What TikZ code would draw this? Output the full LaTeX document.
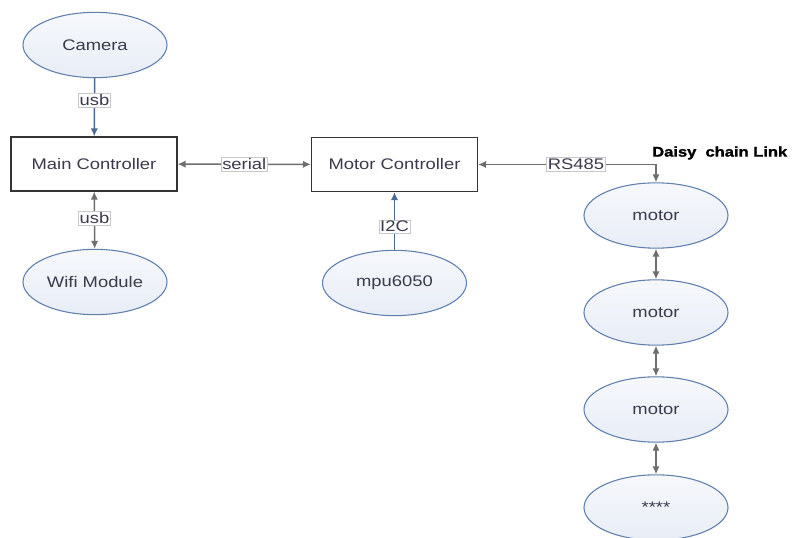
\documentclass[tikz,border=0pt]{standalone}
\usepackage{fontspec}
\setmainfont[FakeStretch=1.2]{Liberation Sans}
\newfontfamily\heavyfont[FakeStretch=1.18,FakeBold=1.6]{Liberation Sans Bold}
\usetikzlibrary{arrows.meta,shapes.geometric}
\definecolor{txtc}{HTML}{3A3A4C}
\definecolor{elb}{HTML}{5F7FAD}
\definecolor{elf}{HTML}{E8EDF6}
\definecolor{arrg}{HTML}{6E6E6E}
\definecolor{arrb}{HTML}{4A6A94}
\definecolor{lblb}{HTML}{C8C8C8}
\tikzset{
  ell/.style={ellipse,draw=elb,line width=0.8pt,top color=white!60!elf,bottom color=elf,
    minimum width=108pt,minimum height=49pt,inner sep=0pt,text=txtc,font=\fontsize{11.5}{13}\selectfont},
  box/.style={rectangle,draw=black!80,line width=0.9pt,fill=white,minimum width=124.5pt,minimum height=40.5pt,
    inner sep=0pt,text=txtc,font=\fontsize{11.5}{13}\selectfont},
  garr/.style={draw=arrg,line width=1.1pt,{Latex[length=6pt,width=5.5pt]}-{Latex[length=6pt,width=5.5pt]}},
  barr/.style={draw=arrb,line width=1.1pt,-{Latex[length=6pt,width=5.5pt]}},
  lbl/.style={fill=white,draw=lblb,line width=0.5pt,inner sep=1pt,text=txtc,font=\fontsize{11.5}{13}\selectfont},
}
\begin{document}
\begin{tikzpicture}[x=0.75pt,y=-0.75pt]
\useasboundingbox (0,0) rectangle (794,538);
\clip (0,0) rectangle (794,538);
\node[ell] (cam) at (95,45) {Camera};
\node[box] (main) at (94,164) {Main Controller};
\node[ell] (wifi) at (95,282) {Wifi Module};
\node[box] (motc) at (394.5,164.5) {Motor Controller};
\node[ell] (mpu) at (394.5,283) {mpu6050};
\node[ell] (m1) at (656,215.5) {motor};
\node[ell] (m2) at (656,312.5) {motor};
\node[ell] (m3) at (656,409.5) {motor};
\node[ell] (m4) at (656,507.5) {****};
\coordinate (corner) at (656,164.5);
\node[anchor=west,inner sep=0pt,text=black,font=\heavyfont\fontsize{10.5}{12}\selectfont] (daisy) at (652,153) {Daisy~ chain Link};

\draw[barr] (cam) -- node[lbl,pos=0.38] {usb} (main);
\draw[garr] (main) -- node[lbl,pos=0.47] {usb} (wifi);
\draw[garr] (main) -- node[lbl,pos=0.5] {serial} (motc);
\draw[barr] (mpu) -- node[lbl,pos=0.4] {I2C} (motc);
\draw[garr] (motc.east) -- node[lbl,pos=0.55] {RS485} (corner) -- (m1.north);
\draw[garr] (m1) -- (m2);
\draw[garr] (m2) -- (m3);
\draw[garr] (m3) -- (m4);
\end{tikzpicture}
\end{document}
